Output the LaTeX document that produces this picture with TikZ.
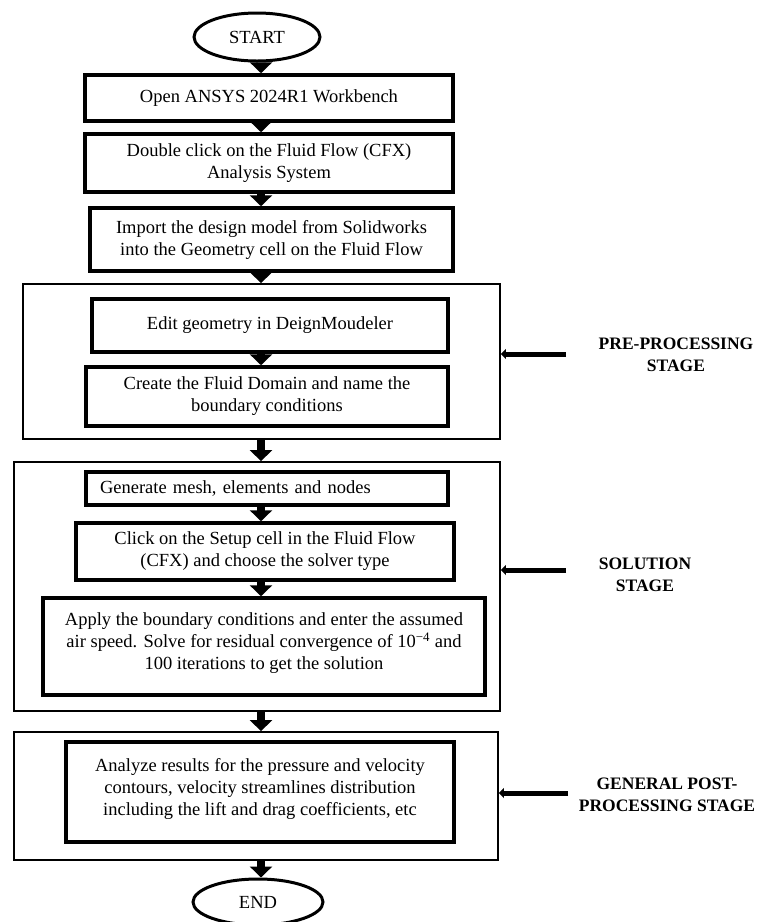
\documentclass[tikz,border=0pt]{standalone}
\usepackage{fontspec}
\setmainfont{Liberation Serif}
\usetikzlibrary{arrows.meta,shapes.geometric}
\begin{document}
\begin{tikzpicture}[x=1pt,y=-1pt,
  bodyfont/.style={font=\fontsize{18.5}{22}\selectfont},
  stepbox/.style={draw, line width=3.5pt, rectangle, inner sep=0pt, align=center, bodyfont},
  stagebox/.style={draw, line width=1.8pt, rectangle, inner sep=0pt},
  terminal/.style={draw, line width=3pt, ellipse, inner sep=0pt, bodyfont},
  flow/.style={line width=7.5pt, -{Triangle[width=22pt,length=11pt]}},
  stagearrow/.style={line width=5pt, -{Triangle[width=10pt,length=5pt]}},
  stagelabel/.style={font=\bfseries\fontsize{17.5}{22}\selectfont, align=center}]
\useasboundingbox (0,0) rectangle (765,922);
\coordinate (axis) at (261,0);

% outer stage boxes
\node[stagebox, minimum width=477pt, minimum height=155pt] (pre) at (261.5,361.5) {};
\node[stagebox, minimum width=486pt, minimum height=249pt] (sol) at (257,586.5) {};
\node[stagebox, minimum width=484pt, minimum height=128pt] (post) at (256,796) {};

% terminals
\node[terminal, minimum width=126pt, minimum height=48pt] (start) at (257,37) {START};
\node[terminal, minimum width=130pt, minimum height=46pt] (end) at (258,902) {END};

% steps
\node[stepbox, minimum width=368pt, minimum height=46pt] (open) at (269,98) {Open ANSYS 2024R1 Workbench};
\node[stepbox, minimum width=368pt, minimum height=58pt] (dbl) at (269,163) {Double click on the Fluid Flow (CFX)\\Analysis System};
\node[stepbox, minimum width=363pt, minimum height=63pt] (imp) at (271.5,239.5) {Import the design model from Solidworks\\into the Geometry cell on the Fluid Flow};
\node[stepbox, minimum width=356pt, minimum height=53pt] (edit) at (270,325.5) {Edit geometry in DeignMoudeler};
\node[stepbox, minimum width=362pt, minimum height=59pt] (create) at (267,396.5) {Create the Fluid Domain and name the\\boundary conditions};
\node[stepbox, minimum width=362pt, minimum height=33pt, align=left, text width=334pt, inner xsep=14pt] (gen) at (267,488.5) {Generate mesh, elements and nodes};
\node[stepbox, minimum width=378pt, minimum height=57pt] (click) at (265,551.5) {Click on the Setup cell in the Fluid Flow\\(CFX) and choose the solver type};
\node[stepbox, minimum width=442pt, minimum height=97pt] (apply) at (264,646.5) {Apply the boundary conditions and enter the assumed\\air speed. Solve for residual convergence of 10\textsuperscript{−4} and\\100 iterations to get the solution\\[-12pt]\mbox{}};
\node[stepbox, minimum width=388pt, minimum height=100pt] (analyze) at (260,792) {Analyze results for the pressure and velocity\\contours, velocity streamlines distribution\\including the lift and drag coefficients, etc\\[-12pt]\mbox{}};

% flow arrows
\draw[flow] (axis |- start.south) -- (axis |- open.north);
\draw[flow] (axis |- open.south) -- (axis |- dbl.north);
\draw[flow] (axis |- dbl.south) -- (axis |- imp.north);
\draw[flow] (axis |- imp.south) -- (axis |- pre.north);
\draw[flow] (axis |- edit.south) -- (axis |- create.north);
\draw[flow] (axis |- pre.south) -- (axis |- sol.north);
\draw[flow] (axis |- gen.south) -- (axis |- click.north);
\draw[flow] (axis |- click.south) -- (axis |- apply.north);
\draw[flow] (axis |- sol.south) -- (axis |- post.north);
\draw[flow] (axis |- post.south) -- (axis |- end.north);

% stage labels
\node[stagelabel] (prelabel) at (676,354.5) {PRE-PROCESSING\\STAGE};
\node[stagelabel] (sollabel) at (645,575) {SOLUTION\\STAGE};
\node[stagelabel] (postlabel) at (667,795) {GENERAL POST-\\PROCESSING STAGE};
\coordinate (pretail) at (566,354);
\coordinate (soltail) at (566,570);
\coordinate (posttail) at (568,793);
\draw[stagearrow] (pretail) -- (pretail -| pre.east);
\draw[stagearrow] (soltail) -- (soltail -| sol.east);
\draw[stagearrow] (posttail) -- (posttail -| post.east);
\end{tikzpicture}
\end{document}
